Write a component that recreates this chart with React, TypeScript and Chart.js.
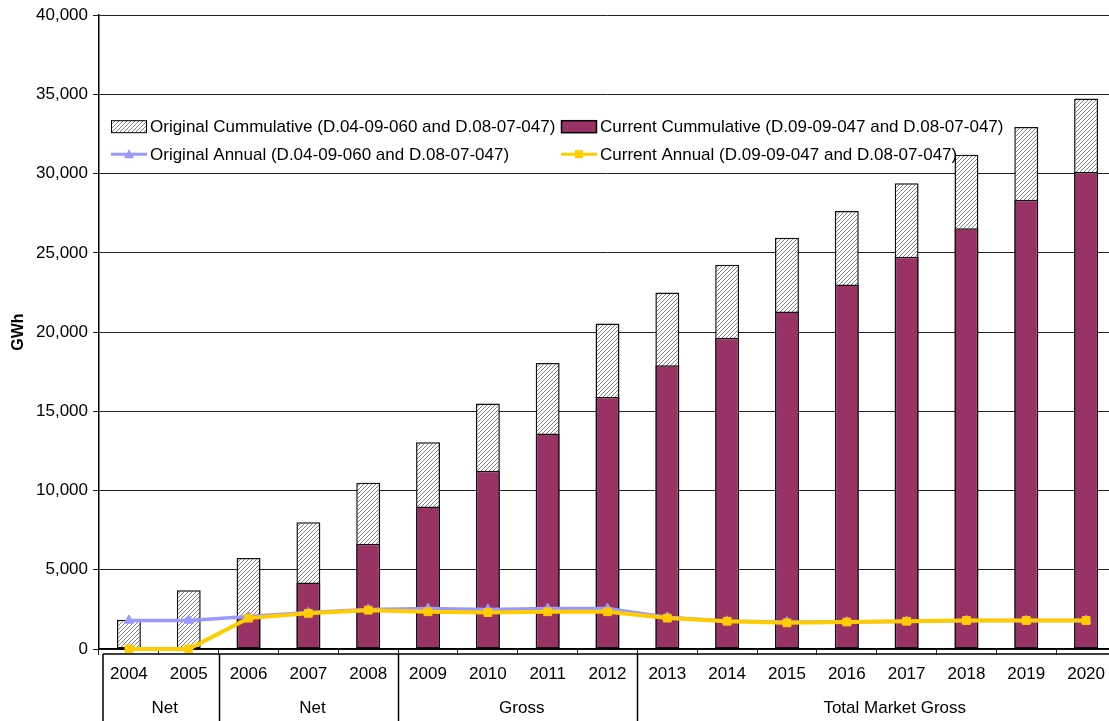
import { useEffect, useRef } from "react";
import { Chart, registerables } from "chart.js";

Chart.register(...registerables);

const years = ["2004", "2005", "2006", "2007", "2008", "2009", "2010", "2011", "2012", "2013", "2014", "2015", "2016", "2017", "2018", "2019", "2020"];
const groupLabels = ["Net", "Net", "Gross", "Total Market Gross"];
const groupSizes = [2, 3, 4, 8];

const originalCumulative = [1850, 3700, 5750, 8000, 10500, 13050, 15500, 18050, 20550, 22500, 24250, 25950, 27650, 29400, 31200, 32950, 34750];
const currentCumulative = [null, null, 2000, 4200, 6650, 9000, 11250, 13600, 15900, 17900, 19650, 21300, 23000, 24750, 26550, 28350, 30100];
const originalAnnual = [1800, 1800, 2050, 2300, 2500, 2550, 2500, 2550, 2550, 2000, 1750, 1700, 1700, 1750, 1800, 1800, 1800];
const currentAnnual = [0, 0, 1950, 2250, 2450, 2350, 2300, 2350, 2350, 1950, 1750, 1650, 1700, 1750, 1800, 1800, 1800];

const yMin = 0;
const yMax = 40000;
const yStep = 5000;

const legendLabels = [
  "Original Cummulative (D.04-09-060 and D.08-07-047)",
  "Current Cummulative (D.09-09-047 and D.08-07-047)",
  "Original Annual (D.04-09-060 and D.08-07-047)",
  "Current Annual (D.09-09-047 and D.08-07-047)",
];

const FONT = "'Liberation Sans', Arial, sans-serif";
const FS = 17;
const PLUM = "#993366";
const BLUE = "#9999FF";
const YELLOW = "#FFCC00";

function makeHatch(): CanvasPattern | string {
  const c = document.createElement("canvas");
  c.width = 4;
  c.height = 4;
  const g = c.getContext("2d");
  if (!g) return "#ddd";
  g.fillStyle = "#ffffff";
  g.fillRect(0, 0, 4, 4);
  g.strokeStyle = "#707070";
  g.lineWidth = 0.9;
  g.beginPath();
  g.moveTo(-1, 5);
  g.lineTo(5, -1);
  g.moveTo(-1, 1);
  g.lineTo(1, -1);
  g.moveTo(3, 5);
  g.lineTo(5, 3);
  g.stroke();
  return g.createPattern(c, "repeat") || "#ddd";
}

export default function App() {
  const ref = useRef<HTMLCanvasElement | null>(null);

  useEffect(() => {
    const canvas = ref.current;
    if (!canvas) return;
    const hatch = makeHatch();

    const bottomBox = {
      id: "bottomBox",
      afterDraw(chart: any) {
        const { ctx, chartArea } = chart;
        const x = chart.scales.x;
        const H = chart.height;
        const W = chart.width;
        const half = (x.getPixelForValue(1) - x.getPixelForValue(0)) / 2;
        const boxTop = chartArea.bottom + 5;
        const boxLeft = chartArea.left + 4;
        ctx.save();
        ctx.strokeStyle = "#000";
        ctx.lineWidth = 1.5;
        ctx.beginPath();
        ctx.moveTo(boxLeft, boxTop);
        ctx.lineTo(W, boxTop);
        ctx.moveTo(boxLeft, boxTop);
        ctx.lineTo(boxLeft, H);
        let idx = 0;
        const centers: number[] = [];
        groupSizes.forEach((n, gi) => {
          const start = gi === 0 ? boxLeft : x.getPixelForValue(idx) - half;
          const end = x.getPixelForValue(idx + n - 1) + half;
          centers.push((start + end) / 2);
          idx += n;
          if (gi < groupSizes.length - 1) {
            ctx.moveTo(Math.round(end) + 0.5, boxTop);
            ctx.lineTo(Math.round(end) + 0.5, H);
          }
        });
        ctx.stroke();
        ctx.fillStyle = "#000";
        ctx.font = `${FS}px ${FONT}`;
        ctx.textAlign = "center";
        ctx.textBaseline = "middle";
        groupLabels.forEach((t, i) => ctx.fillText(t, centers[i] + (i === groupLabels.length - 1 ? 18 : 4), chartArea.bottom + 59));

        // legend
        const lx1 = chartArea.left + 12;
        const lx2 = chartArea.left + 462;
        const ry1 = chartArea.top + 111;
        const ry2 = chartArea.top + 139;
        ctx.textAlign = "left";
        ctx.fillStyle = hatch as any;
        ctx.fillRect(lx1, ry1 - 6, 35, 12);
        ctx.lineWidth = 1;
        ctx.strokeStyle = "#000";
        ctx.strokeRect(lx1 + 0.5, ry1 - 5.5, 35, 12);
        ctx.fillStyle = PLUM;
        ctx.fillRect(lx2, ry1 - 6, 35, 12);
        ctx.lineWidth = 1.5;
        ctx.strokeRect(lx2 + 0.5, ry1 - 5.5, 35, 12);
        ctx.lineWidth = 3;
        ctx.strokeStyle = BLUE;
        ctx.beginPath();
        ctx.moveTo(lx1, ry2);
        ctx.lineTo(lx1 + 36, ry2);
        ctx.stroke();
        ctx.fillStyle = BLUE;
        ctx.beginPath();
        ctx.moveTo(lx1 + 18, ry2 - 5);
        ctx.lineTo(lx1 + 23, ry2 + 4);
        ctx.lineTo(lx1 + 13, ry2 + 4);
        ctx.closePath();
        ctx.fill();
        ctx.strokeStyle = YELLOW;
        ctx.beginPath();
        ctx.moveTo(lx2, ry2);
        ctx.lineTo(lx2 + 36, ry2);
        ctx.stroke();
        ctx.fillStyle = YELLOW;
        ctx.fillRect(lx2 + 14, ry2 - 4, 8, 8);
        ctx.fillStyle = "#000";
        ctx.fillText(legendLabels[0], lx1 + 39, ry1 + 1);
        ctx.fillText(legendLabels[1], lx2 + 39, ry1 + 1);
        ctx.fillText(legendLabels[2], lx1 + 39, ry2 + 1);
        ctx.fillText(legendLabels[3], lx2 + 39, ry2 + 1);
        ctx.restore();
      },
    };

    const chart = new Chart(canvas, {
      type: "bar",
      data: {
        labels: years,
        datasets: [
          {
            type: "line",
            label: legendLabels[3],
            data: currentAnnual,
            borderColor: YELLOW,
            backgroundColor: YELLOW,
            borderWidth: 4,
            pointStyle: "rect",
            pointRadius: 5.5,
            pointBorderWidth: 1,
            tension: 0,
            clip: false,
            order: 0,
          },
          {
            type: "line",
            label: legendLabels[2],
            data: originalAnnual,
            borderColor: BLUE,
            backgroundColor: BLUE,
            borderWidth: 3.5,
            pointStyle: "triangle",
            pointRadius: 5.5,
            pointBorderWidth: 1,
            tension: 0,
            clip: false,
            order: 1,
          },
          {
            type: "bar",
            label: legendLabels[1],
            data: currentCumulative,
            backgroundColor: PLUM,
            borderColor: "#111",
            borderWidth: 1.5,
            borderSkipped: false,
            grouped: false,
            barPercentage: 0.4,
            categoryPercentage: 1,
            order: 2,
          },
          {
            type: "bar",
            label: legendLabels[0],
            data: originalCumulative,
            backgroundColor: hatch as any,
            borderColor: "#111",
            borderWidth: 1.5,
            borderSkipped: false,
            grouped: false,
            barPercentage: 0.4,
            categoryPercentage: 1,
            order: 3,
          },
        ] as any,
      },
      options: {
        responsive: false,
        animation: false,
        events: [],
        layout: { padding: { top: 12, right: 9, bottom: 0, left: 0 } },
        plugins: {
          legend: { display: false },
          tooltip: { enabled: false },
        },
        scales: {
          x: {
            offset: true,
            grid: {
              offset: true,
              drawOnChartArea: false,
              drawTicks: true,
              tickLength: 6,
              color: "#222",
              lineWidth: 1,
            },
            border: { color: "#000", width: 1.5 },
            ticks: {
              color: "#000",
              font: { family: FONT, size: FS },
              padding: 9,
              maxRotation: 0,
              autoSkip: false,
            },
            afterFit: (s: any) => {
              s.height = 72;
            },
          },
          y: {
            min: yMin,
            max: yMax,
            ticks: {
              stepSize: yStep,
              color: "#000",
              font: { family: FONT, size: FS },
              padding: 5,
              callback: (v: any) => Number(v).toLocaleString("en-US"),
            },
            grid: { color: "#222", lineWidth: 1, tickLength: 6 },
            border: { color: "#000", width: 1.5 },
            title: {
              display: true,
              text: "GWh",
              color: "#000",
              font: { family: FONT, size: 16, weight: "bold" },
              padding: { top: 9, bottom: 4 },
            },
            afterFit: (s: any) => {
              s.width = 99;
            },
          },
        },
      },
      plugins: [bottomBox],
    });

    return () => chart.destroy();
  }, []);

  return (
    <div style={{ position: "fixed", left: 0, top: 0, width: 1109, height: 721, overflow: "hidden", background: "#fff" }}>
      <canvas ref={ref} width={1125} height={721} style={{ display: "block", width: 1125, height: 721 }} />
    </div>
  );
}
